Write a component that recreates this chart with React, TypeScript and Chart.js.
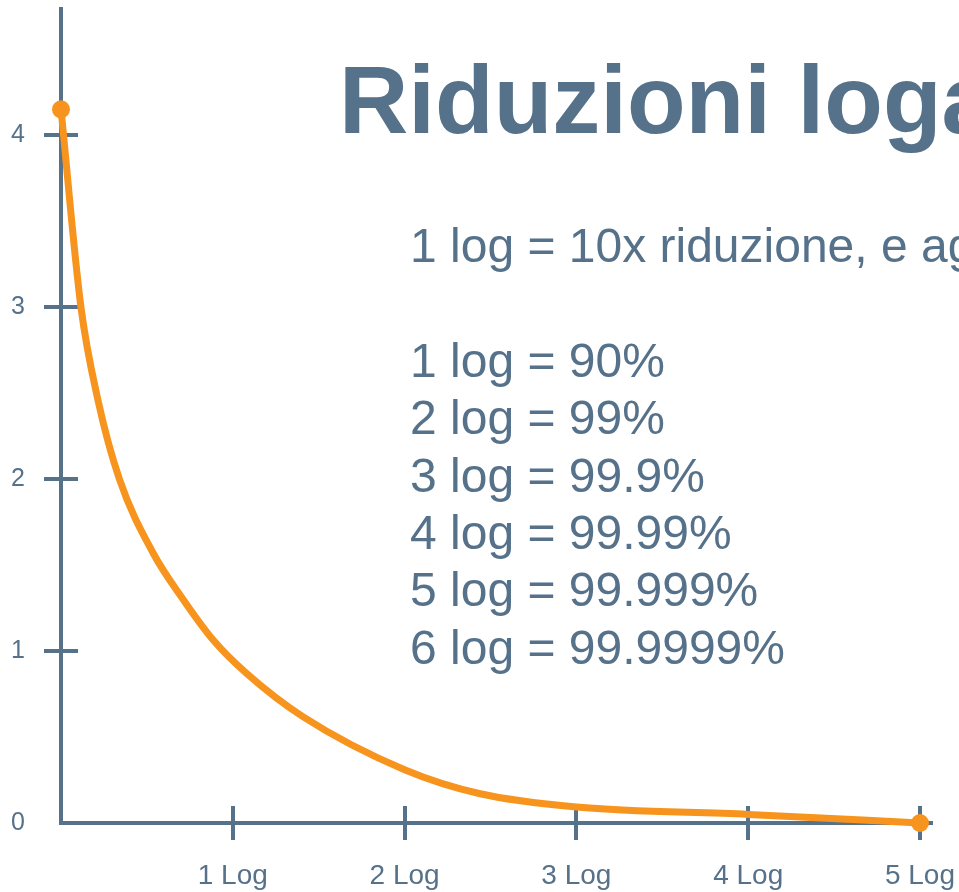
import React, { useEffect, useRef } from "react";
import { Chart, registerables } from "chart.js";

Chart.register(...registerables);

// ---- data ----
const X_VALUES = [0, 0.116, 0.215, 0.34, 0.536, 0.711, 0.886, 1.08, 1.41, 2.0, 2.44, 3.0, 4.0, 5.0];
const Y_VALUES = [4.15, 3.0, 2.46, 2.0, 1.57, 1.3, 1.064, 0.87, 0.617, 0.31, 0.17, 0.093, 0.05, 0];
const X_TICKS = [0, 1, 2, 3, 4, 5];
const X_TICK_LABELS = ["", "1 Log", "2 Log", "3 Log", "4 Log", "5 Log"];
const Y_TICKS = [0, 1, 2, 3, 4];
const Y_TICK_LABELS = ["0", "1", "2", "3", "4"];

const TITLE = "Riduzioni logaritmiche";
const INTRO_LINE = "1 log = 10x riduzione, e ag";
const LOG_LINES = [
  "1 log = 90%",
  "2 log = 99%",
  "3 log = 99.9%",
  "4 log = 99.99%",
  "5 log = 99.999%",
  "6 log = 99.9999%",
];

const AXIS_COLOR = "#56718a";
const LINE_COLOR = "#f7941d";
const FONT = '"Liberation Sans", Arial, sans-serif';

const tickMarks = {
  id: "tickMarks",
  beforeDatasetsDraw(chart: any) {
    const { ctx, chartArea } = chart;
    const x = chart.scales.x;
    const y = chart.scales.y;
    ctx.save();
    ctx.strokeStyle = AXIS_COLOR;
    ctx.lineWidth = 4;
    y.ticks.forEach((t: any) => {
      if (t.value === 0) return;
      const py = Math.round(y.getPixelForValue(t.value));
      ctx.beginPath();
      ctx.moveTo(chartArea.left - 17, py);
      ctx.lineTo(chartArea.left + 17, py);
      ctx.stroke();
    });
    x.ticks.forEach((t: any) => {
      if (t.value === 0) return;
      const px = Math.round(x.getPixelForValue(t.value));
      ctx.beginPath();
      ctx.moveTo(px, chartArea.bottom - 17);
      ctx.lineTo(px, chartArea.bottom + 17);
      ctx.stroke();
    });
    ctx.restore();
  },
};

export default function App() {
  const canvasRef = useRef<HTMLCanvasElement | null>(null);

  useEffect(() => {
    if (!canvasRef.current) return;
    const last = X_VALUES.length - 1;
    const chart = new Chart(canvasRef.current, {
      type: "line",
      data: {
        datasets: [
          {
            data: X_VALUES.map((xv, i) => ({ x: xv, y: Y_VALUES[i] })),
            borderColor: LINE_COLOR,
            backgroundColor: LINE_COLOR,
            borderWidth: 7,
            borderCapStyle: "round",
            borderJoinStyle: "round",
            cubicInterpolationMode: "monotone",
            fill: false,
            clip: false,
            pointRadius: (c: any) => (c.dataIndex === 0 || c.dataIndex === last ? 9 : 0),
            pointBackgroundColor: LINE_COLOR,
            pointBorderWidth: 0,
            pointHoverRadius: 0,
          } as any,
        ],
      },
      options: {
        responsive: false,
        animation: false,
        events: [],
        layout: { padding: { top: 8, right: 27, left: 0, bottom: 0 } },
        plugins: {
          legend: { display: false },
          title: { display: false },
          tooltip: { enabled: false },
        },
        scales: {
          x: {
            type: "linear",
            min: 0,
            max: 5.07,
            afterBuildTicks: (s: any) => {
              s.ticks = X_TICKS.map((v) => ({ value: v }));
            },
            afterFit: (s: any) => {
              s.height = 69;
              s.paddingLeft = 0;
              s.paddingRight = 0;
            },
            grid: { display: true, drawOnChartArea: false, drawTicks: false },
            border: { display: true, color: AXIS_COLOR, width: 4 },
            ticks: {
              color: AXIS_COLOR,
              font: { family: FONT, size: 28 },
              padding: 36,
              maxRotation: 0,
              autoSkip: false,
              callback: (_v: any, i: number) => X_TICK_LABELS[i],
            },
          },
          y: {
            type: "linear",
            min: 0,
            max: 4.733,
            afterBuildTicks: (s: any) => {
              s.ticks = Y_TICKS.map((v) => ({ value: v }));
            },
            afterFit: (s: any) => {
              s.width = 61;
              s.paddingTop = 0;
              s.paddingBottom = 0;
            },
            grid: { display: true, drawOnChartArea: false, drawTicks: false },
            border: { display: true, color: AXIS_COLOR, width: 4 },
            ticks: {
              color: AXIS_COLOR,
              font: { family: FONT, size: 25 },
              padding: 36,
              autoSkip: false,
              callback: (_v: any, i: number) => Y_TICK_LABELS[i],
            },
          },
        },
      },
      plugins: [tickMarks],
    });
    return () => chart.destroy();
  }, []);

  return (
    <div
      style={{
        position: "fixed",
        left: 0,
        top: 0,
        width: 959,
        height: 892,
        overflow: "hidden",
        background: "#ffffff",
        fontFamily: FONT,
      }}
    >
      <canvas
        ref={canvasRef}
        width={959}
        height={892}
        style={{ position: "absolute", left: 0, top: 0, width: 959, height: 892, display: "block" }}
      />
      <div
        style={{
          position: "absolute",
          left: 339,
          top: 52,
          fontSize: 96,
          lineHeight: "96px",
          fontWeight: 700,
          color: AXIS_COLOR,
          whiteSpace: "nowrap",
        }}
      >
        {TITLE}
      </div>
      <div
        style={{
          position: "absolute",
          left: 410,
          top: 217,
          fontSize: 48,
          lineHeight: "57.4px",
          color: AXIS_COLOR,
          whiteSpace: "nowrap",
        }}
      >
        <div>{INTRO_LINE}</div>
        <div>&nbsp;</div>
        {LOG_LINES.map((l) => (
          <div key={l}>{l}</div>
        ))}
      </div>
    </div>
  );
}
